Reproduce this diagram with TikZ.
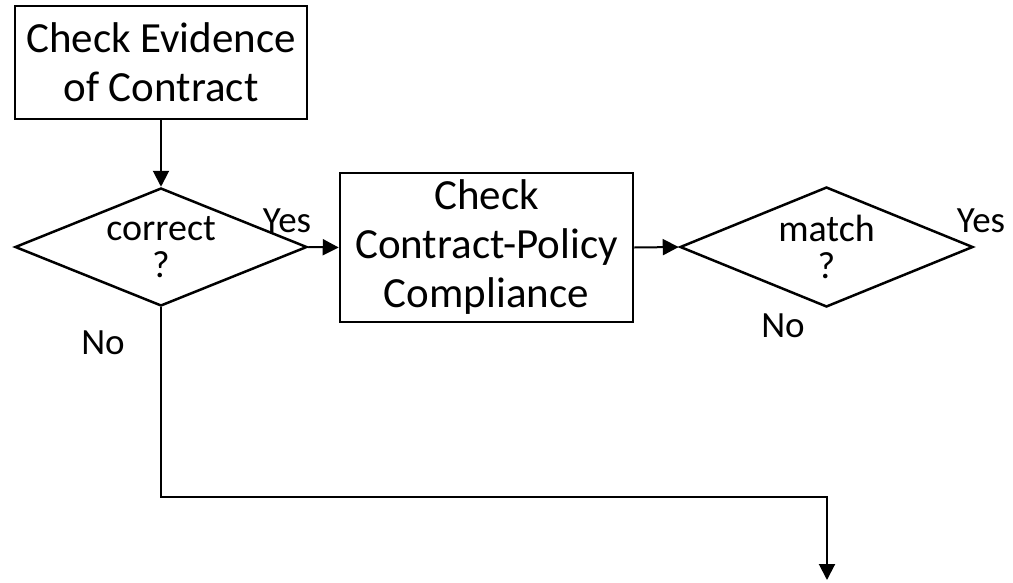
\documentclass[tikz,border=0pt]{standalone}
\usepackage{fontspec}
\setmainfont{Carlito}
\usetikzlibrary{shapes.geometric,arrows.meta}
\begin{document}
\begin{tikzpicture}[x=1pt,y=-1pt,
  stepbox/.style={draw,line width=2.5pt,rectangle,inner sep=0pt,align=center,
    font=\fontsize{43}{49}\selectfont},
  decision/.style={draw,line width=2.5pt,diamond,inner sep=0pt},
  qtext/.style={align=center,inner sep=0pt,font=\fontsize{38}{37}\selectfont},
  lbl/.style={font=\fontsize{37}{38}\selectfont,anchor=base,inner sep=0pt},
  flow/.style={line width=2pt,-{Triangle[length=16pt,width=16pt]}}]
\useasboundingbox (0,0) rectangle (1013,582);

% process steps
\node[stepbox,minimum width=292pt,minimum height=113pt] (evid) at (161,62.5)
  {Check Evidence\\of Contract};
\node[stepbox,minimum width=293pt,minimum height=149pt] (comp) at (486.5,247.5)
  {Check\\Contract-Policy\\Compliance};

% decisions
\node[decision,minimum width=292pt,minimum height=118pt] (corr) at (161,247) {};
\node[qtext] (corrq) at (corr.center) {correct\\?};
\node[decision,minimum width=293pt,minimum height=120pt] (match) at (826.5,247) {};
\node[qtext] (matchq) at (match.center) {match\\?};

% connectors
\coordinate (exit) at (827,580);
\draw[flow] (evid.south) -- (corr.north);
\draw[flow] (corr.east) -- (comp.west);
\draw[flow] (comp.east) -- (match.west);
\draw[flow] (corr.south) -- (161,497) -| (exit);

% branch labels
\node[lbl] (yes1) at (287,232) {Yes};
\node[lbl] (no1) at (103,354) {No};
\node[lbl] (yes2) at (981,232) {Yes};
\node[lbl] (no2) at (783,337) {No};
\end{tikzpicture}
\end{document}
